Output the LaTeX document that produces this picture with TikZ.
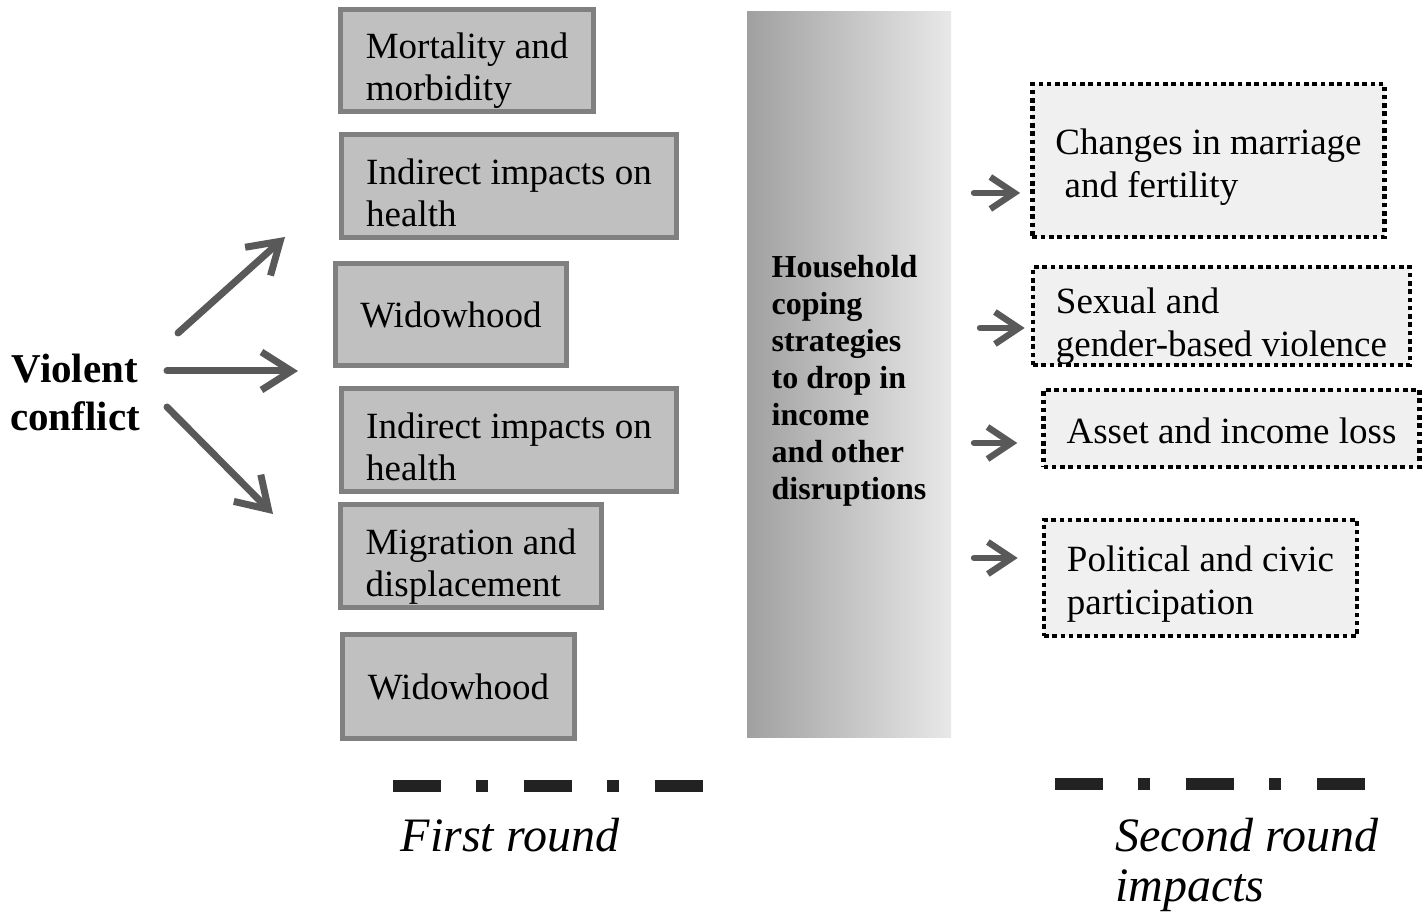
\documentclass[tikz,border=0pt]{standalone}
\usepackage{fontspec}
\setmainfont{Liberation Serif}
\usepackage{xcolor}
\usepackage{tikz}
\usetikzlibrary{arrows.meta,positioning,calc}
\definecolor{boxgray}{HTML}{C0C0C0}
\definecolor{edgegray}{HTML}{808080}
\definecolor{lightfill}{HTML}{F0F0F0}
\definecolor{arrowgray}{HTML}{595959}
\definecolor{barleft}{HTML}{A0A0A0}
\definecolor{barright}{HTML}{E8E8E8}
\definecolor{rulegray}{HTML}{222222}
\newcommand{\lift}[1]{\rule{0pt}{\dimexpr0.69em+#1\relax}}

\begin{document}
\begin{tikzpicture}[x=0.5pt, y=-0.5pt, impact/.style = {shape=rectangle,
          draw=edgegray, line width=2.5pt, fill=boxgray, align=left,
          inner xsep=12.5pt, inner ysep=0pt, font=\fontsize{18.5}{21}\selectfont},
        second/.style = {shape=rectangle, draw=black, line width=2.3pt,
          dash pattern=on 2.3pt off 1.85pt, fill=lightfill, align=left,
          inner xsep=11.5pt, inner ysep=0pt, font=\fontsize{18.5}{21.5}\selectfont},
        coping/.style = {shape=rectangle, left color=barleft,
          right color=barright, align=left, minimum width=102pt,
          minimum height=362.5pt, font=\fontsize{16}{18.5}\selectfont\bfseries},
        post/.style={-{Straight Barb[length=15pt,width=19pt]},
          line width=3.5pt, draw=arrowgray, line cap=round, line join=round},
        spost/.style={-{Straight Barb[length=12pt,width=16pt]},
          line width=3.2pt, draw=arrowgray, line cap=round, line join=round},
        round/.style={line width=6pt, draw=rulegray,
          dash pattern=on 24pt off 17.5pt on 6pt off 18pt}]

        \useasboundingbox (0,0) rectangle (1423,913);

        \node [align=center, font=\fontsize{20.5}{24}\selectfont\bfseries] (conflict) at (75,392) {Violent\\conflict};

        % first round impacts
        \node [impact, minimum height=51pt] (mortality) at (467,61) {\lift{10pt}Mortality and\\morbidity};
        \node [impact, minimum height=51.5pt] (health1) at (509,186.5) {\lift{6pt}Indirect impacts on\\health};
        \node [impact, minimum height=51pt] (widow1) at (451,315) {Widowhood};
        \node [impact, minimum height=51.5pt] (health2) at (509,440.5) {\lift{6pt}Indirect impacts on\\health};
        \node [impact, minimum height=51.5pt] (migration) at (471,556.5) {\lift{10pt}Migration and\\displacement};
        \node [impact, minimum height=51.5pt] (widow2) at (458.5,686.5) {Widowhood};

        \node [coping] (household) at (849,374.5) {\lift{6pt}Household\\coping\\strategies\\to drop in\\income\\and other\\disruptions};

        % second round impacts
        \node [second, minimum height=76.5pt] (marriage) at (1208.5,160.5) {\lift{7pt}Changes in marriage\\\hspace*{4.6pt}and fertility};
        \node [second, minimum height=49pt] (violence) at (1221.5,316) {\lift{10pt}Sexual and\\gender-based violence};
        \node [second, minimum height=38.5pt] (asset) at (1231.5,428.5) {\lift{2pt}Asset and income loss};
        \node [second, minimum height=58pt] (civic) at (1200.5,578) {\lift{6pt}Political and civic\\participation};

        \coordinate (up0) at (178,333);
        \coordinate (up1) at (285,237);
        \coordinate (mid0) at (167,371);
        \coordinate (mid1) at (298,371);
        \coordinate (down0) at (167,407);
        \coordinate (down1) at (273,514);
        \draw [post] (up0) -- (up1);
        \draw [post] (mid0) -- (mid1);
        \draw [post] (down0) -- (down1);

        \coordinate (m0) at (974,193);
        \coordinate (v0) at (980,328);
        \coordinate (a0) at (974,443);
        \coordinate (c0) at (974,558);
        \draw [spost, shorten >=5pt] (m0) -- (m0 -| marriage.west);
        \draw [spost, shorten >=3pt] (v0) -- (v0 -| violence.west);
        \draw [spost, shorten >=12pt] (a0) -- (a0 -| asset.west);
        \draw [spost, shorten >=12pt] (c0) -- (c0 -| civic.west);

        \coordinate (first0) at (393,786);
        \coordinate (first1) at (705,786);
        \coordinate (second0) at (1055,784);
        \coordinate (second1) at (1368,784);
        \draw [round] (first0) -- (first1);
        \draw [round] (second0) -- (second1);

        \node [font=\fontsize{24}{25}\selectfont\itshape] (firstlabel) at (510,835) {First round};
        \node [anchor=west, align=left, font=\fontsize{24}{25}\selectfont\itshape] (secondlabel) at (1108,865) {Second round\\impacts};
      \end{tikzpicture}
\end{document}
